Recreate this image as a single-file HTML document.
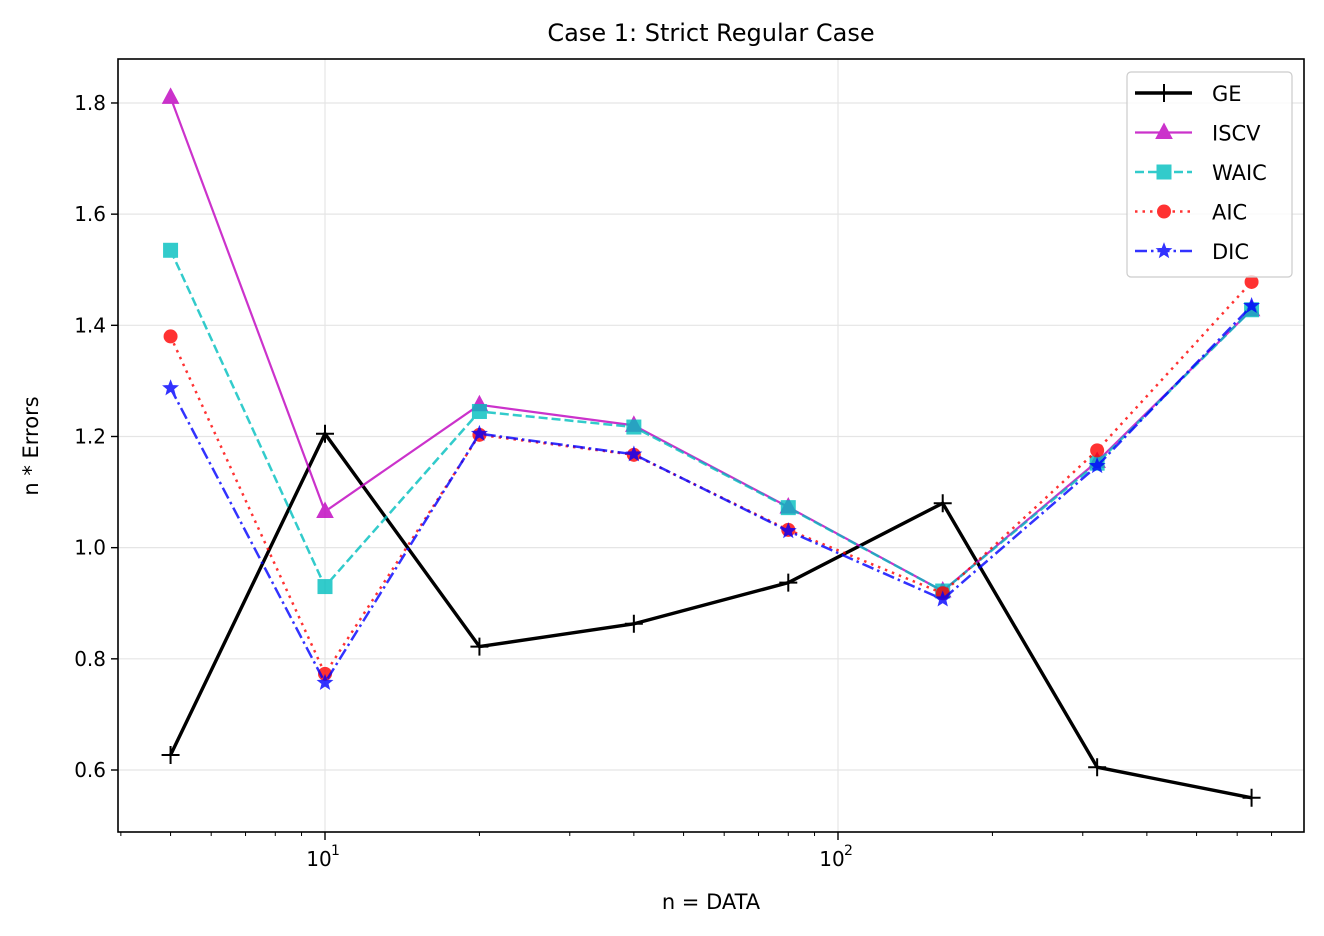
<!DOCTYPE html>
<html><head><style>body{margin:0;background:#fff}svg{display:block;font-family:"DejaVu Sans","Liberation Sans",sans-serif}</style></head>
<body>
<svg id="s" width="1324" height="936" xmlns="http://www.w3.org/2000/svg">
<rect width="1324" height="936" fill="#fff"/>
<g id="grid"></g>
<g id="series"></g>
<rect x="118" y="59" width="1186" height="773" fill="none" stroke="#000" stroke-width="1.6"/>
<g id="ticks" font-size="20" fill="#000"></g>
<text x="711" y="41" font-size="24" text-anchor="middle">Case 1: Strict Regular Case</text>
<text x="711" y="909" font-size="21" text-anchor="middle">n = DATA</text>
<text transform="translate(38,446) rotate(-90)" font-size="21" text-anchor="middle">n * Errors</text>
<g id="legend"></g>
</svg>
<script>
const NS="http://www.w3.org/2000/svg";
function el(p,t,a,txt){const e=document.createElementNS(NS,t);for(const k in a)e.setAttribute(k,a[k]);if(txt!==undefined)e.textContent=txt;document.getElementById(p).appendChild(e);return e;}
const X=v=>325+513*Math.log10(v/10), Y=v=>770-(v-0.6)*555.85;
for(let i=0;i<7;i++){const v=0.6+0.2*i,y=Y(v);
 el("grid","line",{x1:118,x2:1304,y1:y,y2:y,stroke:"#e5e5e5","stroke-width":1.2});
 el("ticks","line",{x1:111,x2:118,y1:y,y2:y,stroke:"#000","stroke-width":1.4});
 el("ticks","text",{x:106,y:y+7,"text-anchor":"end"},v.toFixed(1));}
[10,100].forEach((v,i)=>{const x=X(v);
 el("grid","line",{x1:x,x2:x,y1:59,y2:832,stroke:"#e5e5e5","stroke-width":1.2});
 el("ticks","line",{x1:x,x2:x,y1:832,y2:840,stroke:"#000","stroke-width":1.4});
 el("ticks","text",{x:x-6,y:866,"text-anchor":"middle"},"10");
 el("ticks","text",{x:x+6,y:855,"font-size":14},i?"2":"1");});
[4,5,6,7,8,9,20,30,40,50,60,70,80,90,200,300,400,500,600,700].forEach(v=>{const x=X(v);if(x<118||x>1304)return;
 el("ticks","line",{x1:x,x2:x,y1:832,y2:836,stroke:"#000","stroke-width":1});});
const xs=[5,10,20,40,80,160,320,640];
const S=[
 {n:"GE",c:"#000",w:3.4,d:"",m:"plus",v:[0.627,1.205,0.822,0.863,0.937,1.08,0.605,0.55],o:1},
 {n:"ISCV",c:"#bf00bf",w:2.2,d:"",m:"tri",v:[1.81,1.065,1.257,1.22,1.073,0.922,1.155,1.428],o:0.8},
 {n:"WAIC",c:"#00bfbf",w:2.5,d:"9,4",m:"sq",v:[1.535,0.93,1.245,1.217,1.072,0.922,1.152,1.428],o:0.8},
 {n:"AIC",c:"#ff0000",w:2.5,d:"2.5,5",m:"circ",v:[1.38,0.773,1.203,1.167,1.032,0.918,1.175,1.478],o:0.8},
 {n:"DIC",c:"#0000ff",w:2.5,d:"12,4,2.5,4",m:"star",v:[1.287,0.757,1.205,1.168,1.03,0.907,1.147,1.435],o:0.8}];
function marker(g,m,x,y,c){
 if(m=="plus"){el(g,"path",{d:`M${x-9} ${y}H${x+9}M${x} ${y-9}V${y+9}`,stroke:c,"stroke-width":2});}
 else if(m=="tri"){el(g,"path",{d:`M${x} ${y-9}L${x+8} ${y+6}L${x-8} ${y+6}Z`,fill:c,stroke:c,"stroke-width":1});}
 else if(m=="sq"){el(g,"rect",{x:x-7,y:y-7,width:14,height:14,fill:c,stroke:c,"stroke-width":1});}
 else if(m=="circ"){el(g,"circle",{cx:x,cy:y,r:7,fill:c});}
 else {let p="";for(let i=0;i<10;i++){const r=i%2?3.2:7.5,a=-Math.PI/2+i*Math.PI/5;p+=(i?"L":"M")+(x+r*Math.cos(a)).toFixed(1)+" "+(y+r*Math.sin(a)).toFixed(1);}
  el(g,"path",{d:p+"Z",fill:c,stroke:c,"stroke-width":1});}
}
S.forEach((s,k)=>{const g=el("series","g",{opacity:s.o});g.id="g"+k;
 el(g.id,"polyline",{points:xs.map((x,i)=>X(x)+","+Y(s.v[i])).join(" "),fill:"none",stroke:s.c,"stroke-width":s.w,"stroke-dasharray":s.d});
 xs.forEach((x,i)=>marker(g.id,s.m,X(x),Y(s.v[i]),s.c));});
el("legend","rect",{x:1127,y:72,width:165,height:205,rx:4,fill:"#fff","fill-opacity":0.8,stroke:"#ccc","stroke-width":1.2});
S.forEach((s,k)=>{const y=93+k*39.5;const g=el("legend","g",{opacity:s.o});g.id="l"+k;
 el(g.id,"line",{x1:1135,x2:1192,y1:y,y2:y,stroke:s.c,"stroke-width":s.w,"stroke-dasharray":s.d});
 marker(g.id,s.m,1164,y,s.c);
 el("legend","text",{x:1212,y:y+8,"font-size":21},s.n);});
</script>
</body></html>
